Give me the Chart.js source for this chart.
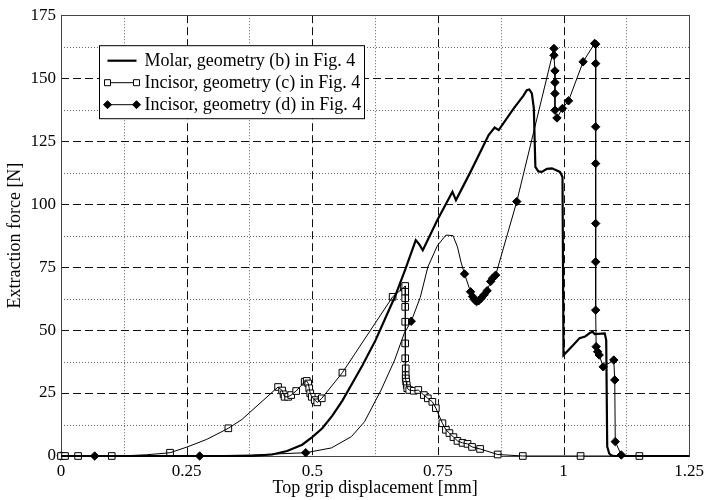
<!DOCTYPE html>
<html>
<head>
<meta charset="utf-8">
<script src="https://cdn.jsdelivr.net/npm/chart.js@4.4.1/dist/chart.umd.min.js"></script>
<style>
  html, body { margin: 0; padding: 0; background: #fff; }
  canvas { display: block; }
</style>
</head>
<body>
<canvas id="forceChart" width="709" height="500"></canvas>
<script>
const seriesNames = [
  'Molar, geometry (b) in Fig. 4',
  'Incisor, geometry (c) in Fig. 4',
  'Incisor, geometry (d) in Fig. 4'
];
const xTickLabels = ['0', '0.25', '0.5', '0.75', '1', '1.25'];
const yTickLabels = ['0', '25', '50', '75', '100', '125', '150', '175'];

// [displacement mm, force N]
const molarPath = [
  [0, 0], [0.38, 0], [0.42, 0.6], [0.45, 2], [0.48, 4.5], [0.5, 7.5], [0.52, 11],
  [0.54, 16], [0.56, 22], [0.58, 29], [0.6, 36], [0.626, 46], [0.664, 63], [0.685, 74],
  [0.706, 85.7], [0.713, 84], [0.72, 81.7], [0.749, 93.7], [0.779, 104.9], [0.786, 101.6],
  [0.815, 112.8], [0.851, 127.4], [0.863, 130.4], [0.871, 129.4], [0.901, 138], [0.92, 143],
  [0.927, 145.2], [0.932, 145.5], [0.937, 144], [0.941, 138], [0.944, 114.8], [0.95, 113], [0.957, 112.8],
  [0.967, 114], [0.977, 114.2], [0.993, 112.8], [0.998, 110.8], [1.0, 40], [1.019, 44],
  [1.032, 46.8], [1.043, 47.4], [1.052, 48.8], [1.058, 49.3], [1.062, 48.4], [1.082, 48.7],
  [1.085, 46], [1.087, 3.7], [1.091, 1], [1.095, 0.3], [1.1, 0], [1.25, 0]
];

const incisorCPath = [
  [0, 0], [0.008, 0], [0.034, 0], [0.101, 0], [0.14, 0.2], [0.17, 0.5], [0.195, 0.9],
  [0.217, 1.3], [0.25, 3.5], [0.29, 6.6], [0.333, 11], [0.36, 14.5], [0.432, 27.4],
  [0.44, 26], [0.443, 24.5], [0.445, 23.5], [0.452, 23.5], [0.458, 24.2], [0.468, 25.8],
  [0.485, 29.5], [0.489, 29.8], [0.492, 28.8], [0.494, 26.9], [0.496, 24.9], [0.499, 23.5],
  [0.505, 22.2], [0.51, 21.3], [0.519, 22.9], [0.56, 33.1], [0.66, 63.2], [0.682, 66.9],
  [0.685, 67.5], [0.685, 65.2], [0.685, 62.6], [0.685, 59.2], [0.685, 53.3], [0.685, 44.7],
  [0.685, 38.8], [0.686, 34.8], [0.686, 32.1], [0.686, 30.8], [0.687, 29.5], [0.688, 28.2],
  [0.689, 26.9], [0.693, 26.2], [0.702, 25.9], [0.711, 26.2], [0.722, 24.2], [0.73, 22.9],
  [0.739, 21.5], [0.746, 19], [0.759, 13], [0.766, 10.4], [0.773, 9.1], [0.781, 7.5],
  [0.789, 6], [0.799, 5.2], [0.809, 4.8], [0.818, 3.6], [0.834, 2.8], [0.869, 0.6],
  [0.919, 0], [1.034, 0], [1.151, 0], [1.25, 0]
];
const incisorCMarks = [
  [0, 0], [0.008, 0], [0.034, 0], [0.101, 0], [0.217, 1.3], [0.333, 11], [0.432, 27.4],
  [0.44, 26], [0.443, 24.5], [0.445, 23.5], [0.452, 23.5], [0.458, 24.2], [0.468, 25.8],
  [0.485, 29.5], [0.489, 29.8], [0.492, 28.8], [0.494, 26.9], [0.496, 24.9], [0.499, 23.5],
  [0.505, 22.2], [0.51, 21.3], [0.519, 22.9], [0.56, 33.1], [0.66, 63.2], [0.682, 66.9],
  [0.685, 67.5], [0.685, 65.2], [0.685, 62.6], [0.685, 59.2], [0.685, 53.3], [0.685, 44.7],
  [0.685, 38.8], [0.686, 34.8], [0.686, 32.1], [0.686, 30.8], [0.687, 29.5], [0.688, 28.2],
  [0.689, 26.9], [0.693, 26.2], [0.702, 25.9], [0.711, 26.2], [0.722, 24.2], [0.73, 22.9],
  [0.739, 21.5], [0.746, 19], [0.759, 13], [0.766, 10.4], [0.773, 9.1], [0.781, 7.5],
  [0.789, 6], [0.799, 5.2], [0.809, 4.8], [0.818, 3.6], [0.834, 2.8], [0.869, 0.6],
  [0.919, 0], [1.034, 0], [1.151, 0]
];

const incisorDPath = [
  [0, 0], [0.067, 0], [0.276, 0], [0.38, 0.4], [0.487, 1.3], [0.538, 3.2], [0.578, 7.7],
  [0.604, 13.6], [0.637, 26.2], [0.664, 38.1], [0.683, 48.7], [0.697, 53.5], [0.715, 63],
  [0.73, 75], [0.749, 83.5], [0.766, 87.7], [0.78, 87.5], [0.789, 83], [0.796, 77],
  [0.803, 72.3], [0.815, 65.2], [0.819, 63.3], [0.823, 62], [0.827, 61.3], [0.831, 61.6],
  [0.836, 62.6], [0.842, 64], [0.848, 65.6], [0.855, 69.3], [0.859, 70.6], [0.865, 71.8],
  [0.907, 101], [0.981, 161.8], [0.981, 159.1], [0.983, 152.9], [0.983, 148.3], [0.983, 143.9],
  [0.983, 137.3], [0.987, 134.2], [0.998, 138], [1.01, 141], [1.039, 156.5], [1.062, 163.8],
  [1.064, 163.5], [1.064, 155.8], [1.064, 130.7], [1.064, 116.1], [1.064, 92.3], [1.064, 77.1],
  [1.064, 57.9], [1.065, 43.4], [1.068, 41.4], [1.071, 40.1], [1.079, 35.4], [1.1, 38.1],
  [1.102, 30.2], [1.103, 5.7], [1.115, 0.4], [1.12, 0], [1.25, 0]
];
const incisorDMarks = [
  [0, 0], [0.067, 0], [0.276, 0], [0.487, 1.3], [0.697, 53.5], [0.803, 72.3], [0.815, 65.2],
  [0.819, 63.3], [0.823, 62], [0.827, 61.3], [0.831, 61.6], [0.836, 62.6], [0.842, 64],
  [0.848, 65.6], [0.855, 69.3], [0.859, 70.6], [0.865, 71.8], [0.907, 101], [0.981, 161.8],
  [0.981, 159.1], [0.983, 152.9], [0.983, 148.3], [0.983, 143.9], [0.983, 137.3], [0.987, 134.2],
  [0.998, 138], [1.01, 141], [1.039, 156.5], [1.062, 163.8], [1.064, 163.5], [1.064, 155.8],
  [1.064, 130.7], [1.064, 116.1], [1.064, 92.3], [1.064, 77.1], [1.064, 57.9], [1.065, 43.4],
  [1.068, 41.4], [1.071, 40.1], [1.079, 35.4], [1.1, 38.1], [1.102, 30.2], [1.103, 5.7],
  [1.115, 0.4]
];

const toPoints = arr => arr.map(p => ({x: p[0], y: p[1]}));

const serif = '"Liberation Serif", "Times New Roman", serif';
Chart.defaults.font.family = serif;
Chart.defaults.font.size = 17;
Chart.defaults.color = '#000';

// dashed major grid + dotted minor grid, like the printed figure
const paperGrid = {
  id: 'paperGrid',
  beforeDatasetsDraw(chart) {
    const {ctx, chartArea: a, scales: {x, y}} = chart;
    const xt = x.ticks.map(t => t.value);
    const yt = y.ticks.map(t => t.value);
    const snap = v => Math.round(v) + 0.5;
    const vline = v => { const p = snap(x.getPixelForValue(v)); ctx.moveTo(p, a.top); ctx.lineTo(p, a.bottom); };
    const hline = v => { const p = snap(y.getPixelForValue(v)); ctx.moveTo(a.left, p); ctx.lineTo(a.right, p); };
    ctx.save();
    ctx.lineWidth = 1;

    ctx.strokeStyle = '#666';
    ctx.setLineDash([1, 2]);
    ctx.beginPath();
    for (let i = 1; i < xt.length; i++) vline((xt[i - 1] + xt[i]) / 2);
    for (let i = 1; i < yt.length; i++) hline((yt[i - 1] + yt[i]) / 2);
    ctx.stroke();

    ctx.strokeStyle = '#111';
    ctx.setLineDash([8, 4]);
    ctx.beginPath();
    xt.slice(1, -1).forEach(vline);
    yt.slice(1, -1).forEach(hline);
    ctx.stroke();

    ctx.setLineDash([]);
    ctx.strokeStyle = '#444';
    ctx.strokeRect(snap(a.left), snap(a.top), Math.round(a.right - a.left), Math.round(a.bottom - a.top));
    ctx.restore();
  }
};

function drawMark(ctx, kind, x, y) {
  ctx.beginPath();
  if (kind === 'rect') {
    ctx.rect(x - 3, y - 3, 6, 6);
    ctx.fillStyle = '#fff';
  } else {
    ctx.moveTo(x, y - 4); ctx.lineTo(x + 4, y); ctx.lineTo(x, y + 4); ctx.lineTo(x - 4, y);
    ctx.closePath();
    ctx.fillStyle = '#000';
  }
  ctx.fill();
  ctx.lineWidth = 1;
  ctx.stroke();
}

// boxed legend in the upper left corner of the plot
const boxLegend = {
  id: 'boxLegend',
  afterDraw(chart) {
    const {ctx, chartArea: a} = chart;
    const bx = a.left + 38.5, by = a.top + 30.5, bw = 265, bh = 73;
    const marks = [null, 'rect', 'diamond'];
    ctx.save();
    ctx.fillStyle = '#fff';
    ctx.fillRect(bx, by, bw, bh);
    ctx.strokeStyle = '#000';
    ctx.lineWidth = 1;
    ctx.strokeRect(bx, by, bw, bh);
    ctx.font = '18px ' + serif;
    ctx.textBaseline = 'middle';
    seriesNames.forEach((name, i) => {
      const cy = by + 15 + i * 22;
      const x0 = bx + 8, x1 = bx + 37;
      ctx.strokeStyle = '#000';
      ctx.lineWidth = i === 0 ? 2.2 : 1;
      ctx.beginPath();
      ctx.moveTo(x0, cy);
      ctx.lineTo(x1, cy);
      ctx.stroke();
      if (marks[i]) {
        drawMark(ctx, marks[i], x0, cy);
        drawMark(ctx, marks[i], x1, cy);
      }
      ctx.fillStyle = '#000';
      ctx.fillText(name, bx + 45, cy + 1);
    });
    ctx.restore();
  }
};

new Chart(document.getElementById('forceChart'), {
  type: 'line',
  data: {
    datasets: [
      {
        label: seriesNames[0],
        data: toPoints(molarPath),
        borderColor: '#000',
        borderWidth: 2.2,
        pointRadius: 0,
        tension: 0,
        clip: 8
      },
      {
        label: seriesNames[1],
        data: toPoints(incisorCPath),
        borderColor: '#000',
        borderWidth: 1,
        pointRadius: 0,
        tension: 0,
        clip: 8
      },
      {
        label: seriesNames[1] + ' markers',
        data: toPoints(incisorCMarks),
        showLine: false,
        pointStyle: 'rect',
        pointRadius: 4.7,
        pointBackgroundColor: '#fff',
        pointBorderColor: '#000',
        pointBorderWidth: 1,
        clip: 8
      },
      {
        label: seriesNames[2],
        data: toPoints(incisorDPath),
        borderColor: '#000',
        borderWidth: 1,
        pointRadius: 0,
        tension: 0,
        clip: 8
      },
      {
        label: seriesNames[2] + ' markers',
        data: toPoints(incisorDMarks),
        showLine: false,
        pointStyle: 'rectRot',
        pointRadius: 4.2,
        pointBackgroundColor: '#000',
        pointBorderColor: '#000',
        pointBorderWidth: 1,
        clip: 8
      }
    ]
  },
  options: {
    responsive: false,
    animation: false,
    events: [],
    layout: { padding: { top: 15, right: 16, bottom: 0, left: 0 } },
    plugins: {
      legend: { display: false },
      tooltip: { enabled: false }
    },
    scales: {
      x: {
        type: 'linear',
        min: 0,
        max: 1.25,
        grid: { display: false, drawTicks: false },
        border: { display: false },
        ticks: {
          stepSize: 0.25,
          padding: 5,
          maxRotation: 0,
          callback: (v, i) => xTickLabels[i]
        },
        title: {
          display: true,
          text: 'Top grip displacement [mm]',
          font: { size: 18 },
          padding: { top: 0, bottom: 1 }
        },
        afterFit: s => { s.height = 44; }
      },
      y: {
        min: 0,
        max: 175,
        grid: { display: false, drawTicks: false },
        border: { display: false },
        ticks: {
          stepSize: 25,
          padding: 5,
          callback: (v, i) => yTickLabels[i]
        },
        title: {
          display: true,
          text: 'Extraction force [N]',
          font: { size: 18 },
          padding: { top: 4, bottom: 0 }
        },
        afterFit: s => { s.width = 61; }
      }
    }
  },
  plugins: [paperGrid, boxLegend]
});
</script>
</body>
</html>
